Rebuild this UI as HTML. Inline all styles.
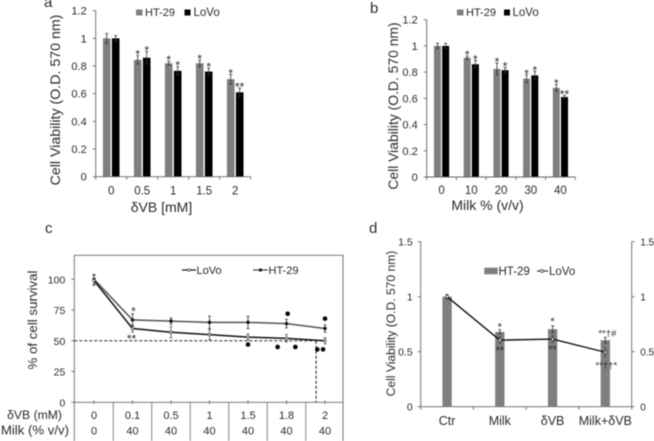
<!DOCTYPE html>
<html><head><meta charset="utf-8">
<style>
html,body{margin:0;padding:0;background:#fff;}
svg{display:block;}
text{font-family:"Liberation Sans",sans-serif;fill:#2a2a2a;}
</style></head>
<body>
<svg id="fig" width="654" height="441" viewBox="0 0 654 441" xmlns="http://www.w3.org/2000/svg" style="filter:blur(0.4px)">
<rect width="654" height="441" fill="#fff"/>
<text x="44" y="7" font-size="15">a</text>
<text x="370" y="13" font-size="15">b</text>
<text x="45" y="233" font-size="15">c</text>
<text x="369" y="233" font-size="15">d</text>

<text transform="translate(60,100) rotate(-90)" text-anchor="middle" font-size="14.2">Cell Viability (O.D. 570 nm)</text>
<text x="161.5" y="212" text-anchor="middle" font-size="14">δVB [mM]</text>
<rect x="136" y="9.5" width="6.5" height="6" fill="#7f7f7f"/>
<text x="145" y="16" font-size="11">HT-29</text>
<rect x="184.5" y="9.5" width="6" height="6" fill="#000"/>
<text x="193.5" y="16" font-size="11.5">LoVo</text>

<text transform="translate(398,106) rotate(-90)" text-anchor="middle" font-size="13.9">Cell Viability (O.D. 570 nm)</text>
<text x="487.5" y="210" text-anchor="middle" font-size="14">Milk % (v/v)</text>
<rect x="457" y="9.5" width="6.5" height="6" fill="#7f7f7f"/>
<text x="466" y="16" font-size="11">HT-29</text>
<rect x="504" y="9.5" width="6" height="6" fill="#000"/>
<text x="512.5" y="16" font-size="11.5">LoVo</text>

<text transform="translate(37,320) rotate(-90)" text-anchor="middle" font-size="13.3">% of cell survival</text>
<text x="62" y="419" text-anchor="end" font-size="12.2">δVB (mM)</text>
<text x="69" y="434.5" text-anchor="end" font-size="13.2">Milk (% v/v)</text>
<line x1="182" y1="270" x2="196" y2="270" stroke="#111" stroke-width="1.2"/>
<circle cx="189" cy="270" r="1.3" fill="#fff" stroke="#333" stroke-width="0.7"/>
<text x="196.5" y="274" font-size="11">LoVo</text>
<line x1="253" y1="270" x2="268" y2="270" stroke="#444" stroke-width="1.2"/>
<circle cx="260.5" cy="270" r="1.6" fill="#111"/>
<text x="268.5" y="274" font-size="11">HT-29</text>

<text transform="translate(395,323.5) rotate(-90)" text-anchor="middle" font-size="12.1">Cell Viability (O.D. 570 nm)</text>
<rect x="484.3" y="267.7" width="13.4" height="6.6" fill="#7f7f7f"/>
<text x="498.5" y="275" font-size="11.5">HT-29</text>
<line x1="537" y1="271" x2="548" y2="271" stroke="#222" stroke-width="1.1"/>
<circle cx="542" cy="271" r="1.5" fill="#fff" stroke="#333" stroke-width="0.7"/>
<text x="549" y="275" font-size="11.5">LoVo</text>
</svg>
<script>
// Panel a
const aCategories = ['0', '0.5', '1', '1.5', '2'];
const aYTicks = [0, 0.2, 0.4, 0.6, 0.8, 1, 1.2];
const aHt29 = [1, 0.845, 0.82, 0.82, 0.705];
const aHt29Err = [0.035, 0.03, 0.015, 0.022, 0.035];
const aLovo = [1, 0.86, 0.765, 0.76, 0.61];
const aLovoErr = [0.02, 0.045, 0.03, 0.025, 0.03];
const aHt29Stars = ['', '*', '*', '*', '*'];
const aLovoStars = ['', '*', '*', '*', '**'];
// Panel b
const bCategories = ['0', '10', '20', '30', '40'];
const bYTicks = [0, 0.2, 0.4, 0.6, 0.8, 1, 1.2];
const bHt29 = [1, 0.91, 0.825, 0.75, 0.68];
const bHt29Err = [0.02, 0.012, 0.045, 0.03, 0.025];
const bLovo = [1, 0.86, 0.815, 0.775, 0.61];
const bLovoErr = [0.02, 0.03, 0.02, 0.03, 0.012];
const bHt29Stars = ['', '*', '*', '*', '*'];
const bLovoStars = ['', '*', '*', '*', '**'];
// Panel c
const cDoseLabels = ['0', '0.1', '0.5', '1', '1.5', '1.8', '2'];
const cMilkLabels = ['0', '40', '40', '40', '40', '40', '40'];
const cYTicks = [0, 25, 50, 75, 100];
const cHt29 = [100, 67, 66, 65, 65, 64, 60];
const cHt29Err = [4, 5, 2.5, 5, 5, 3.5, 3];
const cLovo = [99, 60, 57, 55, 53, 52, 50];
const cLovoErr = [4, 3, 4.5, 4, 2.5, 3, 2.5];
const cDotCategory = [4, 5, 5, 5, 6, 6, 6];
const cDotOffset = [0, 0.03, -0.23, 0.23, 0, -0.2, -0.05];
const cDotValue = [47, 72, 45, 45, 68, 43, 43];
const cReferenceLevel = 50;
const cReferenceDose = 5.77;
// Panel d
const dCategories = ['Ctr', 'Milk', 'δVB', 'Milk+δVB'];
const dYTicks = [0, 0.5, 1, 1.5];
const dHt29 = [1, 0.68, 0.705, 0.605];
const dHt29Err = [0.02, 0.02, 0.03, 0.025];
const dLovo = [1, 0.605, 0.615, 0.495];
const dLovoErr = [0.015, 0.03, 0.03, 0.04];

const svgNS = 'http://www.w3.org/2000/svg';
const fig = document.getElementById('fig');
function mk(tag, attrs, name) {
  const el = document.createElementNS(svgNS, tag);
  for (const k in attrs) el.setAttribute(k, attrs[k]);
  
  
  fig.appendChild(el);
  return el;
}
function line(x1, y1, x2, y2, color, w, name, dash) {
  const a = {x1, y1, x2, y2, stroke: color, 'stroke-width': w};
  if (dash) a['stroke-dasharray'] = dash;
  return mk('line', a, name);
}
function label(x, y, s, size, anchor, name) {
  const t = mk('text', {x, y, 'font-size': size, 'text-anchor': anchor}, name);
  t.textContent = s;
  return t;
}
function errBar(x, yTop, yBot, color, cap, name) {
  line(x, yTop, x, yBot, color, 0.8, name);
  line(x - cap, yTop, x + cap, yTop, color, 0.8, name + '-cap-top');
  line(x - cap, yBot, x + cap, yBot, color, 0.8, name + '-cap-bottom');
}

function barPanel(p) {
  const n = p.cats.length;
  const step = (p.right - p.left) / n;
  const y = v => p.y0 + (p.yTop - p.y0) * v / p.yMax;
  p.ticks.forEach(t => {
    line(p.left - 3, y(t), p.left, y(t), '#666', 0.9, p.id + '-y-tick');
    label(p.left - 9, y(t) + 4, String(t), 11, 'end', p.id + '-y-tick-label');
  });
  for (let i = 0; i <= n; i++) {
    line(p.left + i * step, p.y0, p.left + i * step, p.y0 + 3, '#666', 0.9, p.id + '-x-tick');
  }
  p.cats.forEach((c, i) => {
    const cx = p.left + (i + 0.5) * step;
    const x1 = cx - p.gap / 2 - p.bw;
    const x2 = cx + p.gap / 2;
    mk('rect', {x: x1, y: y(p.s1[i]), width: p.bw, height: p.y0 - y(p.s1[i]), fill: '#7f7f7f'}, p.id + '-bar-ht29');
    mk('rect', {x: x2, y: y(p.s2[i]), width: p.bw, height: p.y0 - y(p.s2[i]), fill: '#000'}, p.id + '-bar-lovo');
    errBar(x1 + p.bw / 2, y(p.s1[i] + p.e1[i]), y(p.s1[i] - p.e1[i]), '#333', 1.5, p.id + '-error-ht29');
    errBar(x2 + p.bw / 2, y(p.s2[i] + p.e2[i]), y(p.s2[i] - p.e2[i]), '#333', 1.5, p.id + '-error-lovo');
    label(x1 + p.bw / 2, y(p.s1[i] + p.e1[i]) + 3, p.st1[i], 12, 'middle', p.id + '-significance-ht29');
    label(x2 + p.bw / 2, y(p.s2[i] + p.e2[i]) + 3, p.st2[i], 12, 'middle', p.id + '-significance-lovo');
    label(cx, p.catY, c, 11.5, 'middle', p.id + '-x-tick-label');
  });
  line(p.left, p.yTop, p.left, p.y0, '#666', 0.9, p.id + '-y-axis');
  line(p.left, p.y0, p.right, p.y0, '#666', 0.9, p.id + '-x-axis');
}
barPanel({id: 'a', left: 95.7, right: 250.7, y0: 176.7, yTop: 10.7, yMax: 1.2, bw: 7.6, gap: 1.4, catY: 194.5,
  cats: aCategories, ticks: aYTicks, s1: aHt29, e1: aHt29Err, s2: aLovo, e2: aLovoErr, st1: aHt29Stars, st2: aLovoStars});
barPanel({id: 'b', left: 426.7, right: 575.3, y0: 177, yTop: 19.7, yMax: 1.2, bw: 7, gap: 1.2, catY: 194,
  cats: bCategories, ticks: bYTicks, s1: bHt29, e1: bHt29Err, s2: bLovo, e2: bLovoErr, st1: bHt29Stars, st2: bLovoStars});

// Panel c
(function () {
  const left = 74.3, right = 343, top = 255.3, y0 = 402.3, x0 = 94, step = 38.5;
  const y = v => y0 + (279.3 - y0) * v / 100;
  const x = i => x0 + i * step;
  mk('path', {d: `M${left} 441V${top}H${right}V441`, fill: 'none', stroke: '#666', 'stroke-width': 0.9}, 'c-plot-frame');
  line(left, y0, right, y0, '#666', 0.9, 'c-x-axis');
  cYTicks.forEach(t => {
    line(left - 3, y(t), left, y(t), '#666', 0.9, 'c-y-tick');
    label(left - 9, y(t) + 4, String(t), 10.5, 'end', 'c-y-tick-label');
  });
  cDoseLabels.forEach((c, i) => {
    line(x(i), y0 - 2, x(i), y0 + 2, '#666', 0.8, 'c-x-tick');
    label(x(i), 419, c, 11, 'middle', 'c-dose-label');
    label(x(i), 434.5, cMilkLabels[i], 11, 'middle', 'c-milk-label');
    if (i > 0) line(x(i) - step / 2, y0, x(i) - step / 2, 441, '#777', 0.9, 'c-table-separator');
  });
  line(left, y(cReferenceLevel), x(6), y(cReferenceLevel), '#222', 1, 'c-reference-50-line', '3 2');
  line(x(cReferenceDose), y(cReferenceLevel), x(cReferenceDose), y0, '#111', 1, 'c-reference-dose-line', '3 2');
  const toPts = s => s.map((v, i) => x(i) + ',' + y(v)).join(' ');
  mk('polyline', {points: toPts(cHt29), fill: 'none', stroke: '#555', 'stroke-width': 1.5}, 'c-line-ht29');
  mk('polyline', {points: toPts(cLovo), fill: 'none', stroke: '#111', 'stroke-width': 1.5}, 'c-line-lovo');
  cHt29.forEach((v, i) => {
    errBar(x(i), y(v + cHt29Err[i]), y(v - cHt29Err[i]), '#333', 1.5, 'c-error-ht29');
    mk('circle', {cx: x(i), cy: y(v), r: 1.7, fill: '#111'}, 'c-point-ht29');
  });
  cLovo.forEach((v, i) => {
    errBar(x(i), y(v + cLovoErr[i]), y(v - cLovoErr[i]), '#555', 1.5, 'c-error-lovo');
    mk('circle', {cx: x(i), cy: y(v), r: 1.3, fill: '#fff', stroke: '#333', 'stroke-width': 0.7}, 'c-point-lovo');
  });
  cDotValue.forEach((v, i) => {
    mk('circle', {cx: x(cDotCategory[i] + cDotOffset[i]), cy: y(v), r: 2.3, fill: '#000'}, 'c-significance-dot');
  });
  label(x(1) + 1, y(cHt29[1] + cHt29Err[1]) + 2, '*', 12, 'middle', 'c-significance-ht29');
  label(x(1) - 1, y(cLovo[1] - cLovoErr[1]) + 11, '**', 12, 'middle', 'c-significance-lovo');
})();

// Panel d
(function () {
  const left = 420.7, right = 631.7, y0 = 406.7, yTop = 241.7, bw = 9.3;
  const step = (right - left) / dCategories.length;
  const y = v => y0 + (yTop - y0) * v / 1.5;
  const x = i => left + (i + 0.5) * step;
  line(left, yTop, left, y0, '#666', 0.9, 'd-y-axis-left');
  line(right, yTop, right, y0, '#666', 0.9, 'd-y-axis-right');
  line(left, y0, right, y0, '#666', 0.9, 'd-x-axis');
  dYTicks.forEach(t => {
    line(left - 3, y(t), left, y(t), '#666', 0.9, 'd-y-tick-left');
    line(right, y(t), right + 3, y(t), '#666', 0.9, 'd-y-tick-right');
    label(left - 8, y(t) + 4, String(t), 10.5, 'end', 'd-y-tick-label-left');
    label(right + 8.5, y(t) + 4, String(t), 10, 'start', 'd-y-tick-label-right');
  });
  for (let i = 0; i <= dCategories.length; i++) {
    line(left + i * step, y0, left + i * step, y0 + 3, '#666', 0.9, 'd-x-tick');
  }
  dCategories.forEach((c, i) => {
    mk('rect', {x: x(i) - bw / 2, y: y(dHt29[i]), width: bw, height: y0 - y(dHt29[i]), fill: '#7f7f7f'}, 'd-bar-ht29');
    errBar(x(i), y(dHt29[i] + dHt29Err[i]), y(dHt29[i] - dHt29Err[i]), '#333', 1.5, 'd-error-ht29');
    errBar(x(i), y(dLovo[i] + dLovoErr[i]), y(dLovo[i] - dLovoErr[i]), '#444', 1.2, 'd-error-lovo');
    label(x(i), 425, c, 12.5, 'middle', 'd-x-tick-label');
  });
  mk('polyline', {points: dLovo.map((v, i) => x(i) + ',' + y(v)).join(' '), fill: 'none', stroke: '#111', 'stroke-width': 1.4}, 'd-line-lovo');
  dLovo.forEach((v, i) => {
    mk('circle', {cx: x(i), cy: y(v), r: 1.4, fill: '#fff', stroke: '#333', 'stroke-width': 0.7}, 'd-point-lovo');
  });
  label(x(1), y(dHt29[1] + dHt29Err[1]) + 1, '*', 11, 'middle', 'd-significance-ht29');
  label(x(2), y(dHt29[2] + dHt29Err[2]) - 1, '*', 11, 'middle', 'd-significance-ht29');
  label(x(3) + 2, y(dHt29[3] + dHt29Err[3]) - 1, '**†#', 9.5, 'middle', 'd-significance-ht29');
  label(x(1), y(dLovo[1]) + 14, '**', 11, 'middle', 'd-significance-lovo');
  label(x(2), y(dLovo[2]) + 14, '**', 11, 'middle', 'd-significance-lovo');
  label(x(3) + 1, y(dLovo[3]) + 16, '**††*', 9.5, 'middle', 'd-significance-lovo');
})();
</script>
</body></html>
